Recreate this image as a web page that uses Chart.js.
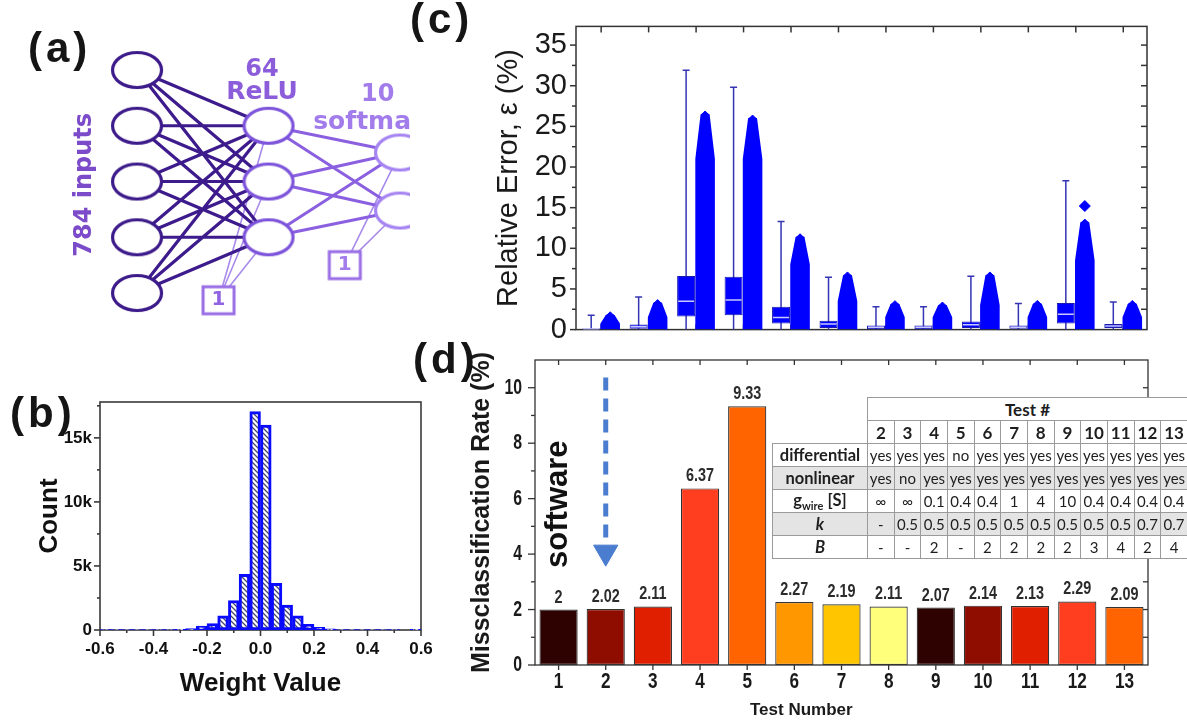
<!DOCTYPE html>
<html>
<head>
<meta charset="utf-8">
<title>Network, weights, relative error and misclassification</title>
<script src="https://cdn.jsdelivr.net/npm/chart.js@4.4.1/dist/chart.umd.min.js"></script>
<style>
  html, body { margin: 0; padding: 0; background: #fff; }
  #page { position: relative; width: 1187px; height: 725px; overflow: hidden; background: #fff; }
  canvas { position: absolute; }
  .tag { position: absolute; font: bold 42px 'Liberation Sans', Arial, sans-serif; color: #151515; line-height: 42px; letter-spacing: 4px; }
  #testTitle { position: absolute; left: 750px; top: 700px; font: bold 17px 'Liberation Sans', Arial, sans-serif; color: #1a1a1a; line-height: 20px; }
  #paramTable { position: absolute; left: 772px; top: 397px; width: 415px; border-collapse: collapse; table-layout: fixed; font-family: Lato, 'Open Sans', sans-serif; color: #1e1e1e; }
  #paramTable td, #paramTable th { border: 1px solid #9a9a9a; height: 22px; padding: 0; text-align: center; background: #fff; font-size: 15px; font-weight: normal; white-space: nowrap; overflow: hidden; }
  #paramTable .blank { border: none; background: transparent; }
  #paramTable .head { font-weight: bold; font-size: 17px; }
  #paramTable .lab { font-weight: bold; font-size: 16.5px; }
  #paramTable tr.shade td, #paramTable tr.shade th { background: #e4e4e4; }
</style>
</head>
<body>
<div id="page">
  <canvas id="netChart" width="410" height="340" style="left:0;top:0"></canvas>
  <canvas id="weightChart" width="470" height="355" style="left:0;top:370px"></canvas>
  <canvas id="errorChart" width="777" height="356" style="left:410px;top:0"></canvas>
  <canvas id="missChart" width="777" height="385" style="left:410px;top:340px"></canvas>
  <table id="paramTable"></table>
  <div id="testTitle">Test Number</div>
  <div class="tag" style="left:28px;top:27px">(a)</div>
  <div class="tag" style="left:10px;top:392px">(b)</div>
  <div class="tag" style="left:410px;top:-2px">(c)</div>
  <div class="tag" style="left:413px;top:338px">(d)</div>
</div>
<script>
// ---------- (a) network: node rows per layer ----------
const inputRows = [0, 1, 2, 3, 4];
const hiddenRows = [1, 2, 3];
const outputRows = [1.48, 2.52];
const biasUnits = [
  { layer: 0.62, row: 4.13, feeds: 1 },
  { layer: 1.58, row: 3.5, feeds: 2 }
];

// ---------- (b) weight histogram (counts in thousands) ----------
const weightBins = [-0.58, -0.54, -0.50, -0.46, -0.42, -0.38, -0.34, -0.30, -0.26, -0.22, -0.18, -0.14, -0.10, -0.06, -0.02,
                    0.02, 0.06, 0.10, 0.14, 0.18, 0.22, 0.26, 0.30, 0.34, 0.38, 0.42, 0.46, 0.50, 0.54, 0.58];
const weightCounts = [0.04, 0.04, 0.04, 0.04, 0.04, 0.04, 0.04, 0.05, 0.12, 0.3, 0.5, 1.1, 2.3, 4.35, 17.05,
                      16.0, 3.65, 1.95, 1.1, 0.45, 0.2, 0.1, 0.04, 0.04, 0.04, 0.04, 0.04, 0.04, 0, 0.05];
const weightTicks = [-0.6, -0.4, -0.2, 0, 0.2, 0.4, 0.6];
const countTicks = [0, 5, 10, 15];

// ---------- (c) relative error per test ----------
const errorTests = ['2', '3', '4', '5', '6', '7', '8', '9', '10', '11', '12', '13'];
const whiskerTop = [1.77, 4.0, 31.9, 29.8, 13.3, 6.45, 2.8, 2.8, 6.55, 3.2, 18.3, 3.4];
const boxQ3 = [0.15, 0.64, 6.6, 6.5, 2.8, 1.1, 0.5, 0.5, 1.0, 0.5, 3.26, 0.7];
const boxMedian = [0.06, 0.35, 3.5, 3.65, 1.5, 0.7, 0.3, 0.3, 0.6, 0.3, 1.9, 0.45];
const boxQ1 = [0, 0.1, 1.6, 1.75, 0.75, 0.2, 0.05, 0.05, 0.2, 0.1, 0.75, 0.2];
const swarmMax = [1.7, 3.2, 26.4, 25.9, 11.3, 6.6, 3.07, 2.9, 6.6, 3.1, 13.1, 3.1];
const swarmShoulder = [0.7, 1.5, 21, 21, 8, 3.5, 1.5, 1.5, 3, 1.5, 8.5, 1.5];
const swarmOutliers = [[], [], [], [], [], [], [], [], [], [], [15.2], []];
const errorTicks = [0, 5, 10, 15, 20, 25, 30, 35];

// ---------- (d) misclassification rate ----------
const testNumbers = ['1', '2', '3', '4', '5', '6', '7', '8', '9', '10', '11', '12', '13'];
const missRates = [2, 2.02, 2.11, 6.37, 9.33, 2.27, 2.19, 2.11, 2.07, 2.14, 2.13, 2.29, 2.09];
const missTicks = [0, 2, 4, 6, 8, 10];
const barColors = ['#2e0200', '#8e0c00', '#e01f00', '#ff3d1f', '#ff6400', '#ff9700', '#ffc600', '#ffff7c',
                   '#2e0200', '#8e0c00', '#e01f00', '#ff3d1f', '#ff6400'];
const softwareArrow = { test: '2', from: 10.37, to: 4.35, head: 4.07 };

// ---------- table ----------
const tableTests = ['2', '3', '4', '5', '6', '7', '8', '9', '10', '11', '12', '13'];
const differentialRow = ['yes', 'yes', 'yes', 'no', 'yes', 'yes', 'yes', 'yes', 'yes', 'yes', 'yes', 'yes'];
const nonlinearRow = ['yes', 'no', 'yes', 'yes', 'yes', 'yes', 'yes', 'yes', 'yes', 'yes', 'yes', 'yes'];
const gwireRow = ['∞', '∞', '0.1', '0.4', '0.4', '1', '4', '10', '0.4', '0.4', '0.4', '0.4'];
const kRow = ['-', '0.5', '0.5', '0.5', '0.5', '0.5', '0.5', '0.5', '0.5', '0.5', '0.7', '0.7'];
const bRow = ['-', '-', '2', '-', '2', '2', '2', '2', '3', '4', '2', '4'];

const ARIAL = "'Liberation Sans', Arial, sans-serif";
const DEJAVU = "'DejaVu Sans', sans-serif";

// frame, tick marks and (optionally) squeezed tick labels, all from the chart's scales
function framePlugin(spec) {
  return {
    id: 'frame',
    beforeDatasetsDraw(chart) {
      const { ctx, chartArea: a } = chart;
      ctx.save();
      ctx.strokeStyle = spec.color;
      ctx.lineWidth = spec.width;
      ctx.strokeRect(a.left, a.top, a.right - a.left, a.bottom - a.top);
      spec.ticks.forEach(t => {
        const s = chart.scales[t.scale];
        t.values.forEach(v => {
          const p = s.getPixelForValue(v);
          ctx.beginPath();
          if (t.side === 'left') { ctx.moveTo(a.left, p); ctx.lineTo(a.left - t.len, p); }
          if (t.side === 'right') { ctx.moveTo(a.right, p); ctx.lineTo(a.right + t.len, p); }
          if (t.side === 'bottom') { ctx.moveTo(p, a.bottom); ctx.lineTo(p, a.bottom + t.len); }
          if (t.side === 'top') { ctx.moveTo(p, a.top); ctx.lineTo(p, a.top - t.len); }
          ctx.stroke();
        });
      });
      (spec.labels || []).forEach(l => {
        const s = chart.scales[l.scale];
        ctx.font = l.font;
        ctx.fillStyle = l.color;
        ctx.textBaseline = 'middle';
        l.values.forEach((v, i) => {
          const p = s.getPixelForValue(v);
          ctx.save();
          if (l.side === 'left') { ctx.translate(a.left - l.offset, p); ctx.textAlign = 'right'; }
          else { ctx.translate(p, a.bottom + l.offset); ctx.textAlign = 'center'; }
          ctx.scale(l.squeeze, 1);
          ctx.fillText(l.text[i], 0, 0);
          ctx.restore();
        });
      });
      ctx.restore();
    }
  };
}

// free text placed in data units
function notesPlugin(items) {
  return {
    id: 'notes',
    afterDatasetsDraw(chart) {
      const ctx = chart.ctx;
      items.forEach(it => {
        const x = chart.scales.x.getPixelForValue(it.x);
        const y = chart.scales.y.getPixelForValue(it.y);
        ctx.save();
        ctx.translate(x, y);
        if (it.rotate) ctx.rotate(it.rotate * Math.PI / 180);
        ctx.font = it.font;
        ctx.fillStyle = it.color;
        ctx.textAlign = it.align || 'center';
        ctx.textBaseline = 'middle';
        ctx.fillText(it.text, 0, 0);
        ctx.restore();
      });
    }
  };
}

const noInteraction = { legend: { display: false }, tooltip: { enabled: false } };

// ================= (a) network =================
function ellipseMarker(color, w, h, lw) {
  const c = document.createElement('canvas');
  c.width = Math.ceil(w + lw * 2); c.height = Math.ceil(h + lw * 2);
  const g = c.getContext('2d');
  g.beginPath();
  g.ellipse(c.width / 2, c.height / 2, w / 2, h / 2, 0, 0, Math.PI * 2);
  g.fillStyle = '#fff'; g.fill();
  g.lineWidth = lw; g.strokeStyle = color; g.stroke();
  return c;
}
function boxMarker(color, w, h, lw) {
  const c = document.createElement('canvas');
  c.width = Math.ceil(w + lw * 2); c.height = Math.ceil(h + lw * 2);
  const g = c.getContext('2d');
  g.fillStyle = '#fff'; g.fillRect(lw, lw, w, h);
  g.lineWidth = lw; g.strokeStyle = color; g.strokeRect(lw, lw, w, h);
  return c;
}
function layerEdges(fromRows, fromLayer, toRows, toLayer) {
  const pts = [];
  fromRows.forEach(a => toRows.forEach(b => {
    pts.push({ x: fromLayer, y: a }, { x: toLayer, y: b }, { x: toLayer, y: null });
  }));
  return pts;
}
const layers = [inputRows, hiddenRows, outputRows];
const biasEdges = [];
biasUnits.forEach(b => layers[b.feeds].forEach(r => {
  biasEdges.push({ x: b.layer, y: b.row }, { x: b.feeds, y: r }, { x: b.feeds, y: null });
}));
const nodeColors = ['#3d1a8a', '#7c53da', '#a684f2'];

new Chart(document.getElementById('netChart'), {
  type: 'scatter',
  data: {
    datasets: [
      { type: 'line', data: layerEdges(inputRows, 0, hiddenRows, 1), borderColor: '#3d1b8c', borderWidth: 3.2, pointRadius: 0, spanGaps: false, order: 5 },
      { type: 'line', data: layerEdges(hiddenRows, 1, outputRows, 2), borderColor: '#8b60e0', borderWidth: 3, pointRadius: 0, spanGaps: false, order: 5 },
      { type: 'line', data: biasEdges, borderColor: '#a88bea', borderWidth: 1.6, pointRadius: 0, spanGaps: false, order: 6 },
      ...layers.map((rows, li) => ({
        data: rows.map(r => ({ x: li, y: r })),
        pointStyle: ellipseMarker(nodeColors[li], 49, 35, 3.2), pointRadius: 20, order: 0
      })),
      {
        data: biasUnits.map(b => ({ x: b.layer, y: b.row })),
        pointStyle: boxMarker('#9a6fe6', 31, 27, 3), pointRadius: 16, order: 0
      }
    ]
  },
  options: {
    responsive: false, animation: false, events: [],
    layout: { padding: 0, autoPadding: false },
    plugins: noInteraction,
    scales: {
      x: { type: 'linear', display: false, min: -1.042, max: 2.076 },
      y: { type: 'linear', display: false, reverse: true, min: -1.256, max: 4.843 }
    }
  },
  plugins: [notesPlugin([
    { text: '64', x: 0.95, y: 0.0, font: 'bold 24px ' + DEJAVU, color: '#8c5ddb' },
    { text: 'ReLU', x: 0.95, y: 0.41, font: 'bold 25px ' + DEJAVU, color: '#8c5ddb' },
    { text: '10', x: 1.83, y: 0.45, font: 'bold 24px ' + DEJAVU, color: '#a27ceb' },
    { text: 'softmax', x: 1.34, y: 0.95, font: 'bold 25px ' + DEJAVU, color: '#a27ceb', align: 'left' },
    { text: '784 inputs', x: -0.395, y: 2.06, font: 'bold 24px ' + DEJAVU, color: '#7b4bc9', rotate: -90 },
    { text: '1', x: biasUnits[0].layer, y: biasUnits[0].row, font: 'bold 20px ' + DEJAVU, color: '#9063e0' },
    { text: '1', x: biasUnits[1].layer, y: biasUnits[1].row, font: 'bold 20px ' + DEJAVU, color: '#a47ded' }
  ])]
});

// ================= (b) histogram =================
function hatchPattern() {
  const c = document.createElement('canvas');
  c.width = 5; c.height = 5;
  const g = c.getContext('2d');
  g.fillStyle = '#fff'; g.fillRect(0, 0, 5, 5);
  g.strokeStyle = '#4a4a70'; g.lineWidth = 1.3;
  g.beginPath();
  g.moveTo(-1, -1); g.lineTo(6, 6);
  g.moveTo(-1, 4); g.lineTo(1, 6);
  g.moveTo(4, -1); g.lineTo(6, 1);
  g.stroke();
  return g.createPattern(c, 'repeat');
}

new Chart(document.getElementById('weightChart'), {
  type: 'bar',
  data: {
    datasets: [{
      data: weightBins.map((b, i) => ({ x: b, y: weightCounts[i] })),
      backgroundColor: hatchPattern(), borderColor: '#0a0aff', borderWidth: 3, borderSkipped: false,
      barPercentage: 1, categoryPercentage: 1
    }]
  },
  options: {
    responsive: false, animation: false, events: [],
    plugins: noInteraction,
    layout: { padding: { top: 32, right: 49, left: 0, bottom: 0 }, autoPadding: false },
    scales: {
      x: {
        type: 'linear', offset: false, min: -0.6, max: 0.6,
        grid: { display: false, drawTicks: false }, border: { display: false },
        afterBuildTicks: s => { s.ticks = weightTicks.map(v => ({ value: v })); },
        ticks: { callback: v => v.toFixed(1), font: { family: ARIAL, size: 17, weight: 'bold' }, color: '#111', padding: 9, maxRotation: 0 },
        title: { display: true, text: 'Weight Value', font: { family: ARIAL, size: 26, weight: 'bold' }, color: '#111', padding: { top: 0, bottom: 26 } },
        afterFit: s => { s.height = 95; }
      },
      y: {
        min: 0, max: 17.8,
        grid: { display: false, drawTicks: false }, border: { display: false },
        afterBuildTicks: s => { s.ticks = countTicks.map(v => ({ value: v })); },
        ticks: { callback: v => v === 0 ? '0' : v + 'k', font: { family: ARIAL, size: 17, weight: 'bold' }, color: '#111', padding: 8 },
        title: { display: true, text: 'Count', font: { family: ARIAL, size: 26, weight: 'bold' }, color: '#111', padding: { top: 34, bottom: 0 } },
        afterFit: s => { s.width = 100; }
      }
    }
  },
  plugins: [framePlugin({
    color: '#3a3a3a', width: 1.6,
    ticks: [
      { scale: 'y', side: 'left', len: 6, values: countTicks },
      { scale: 'y', side: 'left', len: 3, values: [2.5, 7.5, 12.5, 17.5] },
      { scale: 'x', side: 'bottom', len: 6, values: weightTicks },
      { scale: 'x', side: 'bottom', len: 3, values: [-0.5, -0.3, -0.1, 0.1, 0.3, 0.5] }
    ]
  })]
});

// ================= (c) relative error =================
const boxOffset = -0.21, swarmOffset = 0.19, swarmHalf = 0.18, swarmTopHalf = 0.07;
const errorBlue = '#0000ff', whiskerBlue = '#3434b4';
const catPos = errorTests.map((t, i) => i + 1);

const swarmSets = swarmMax.map((m, i) => {
  const c = catPos[i] + swarmOffset, s = swarmShoulder[i];
  return {
    type: 'line', fill: 'origin', tension: 0, pointRadius: 0, order: 3,
    backgroundColor: errorBlue, borderColor: errorBlue, borderWidth: 2.5, borderJoinStyle: 'round',
    data: [
      { x: c - swarmHalf, y: 0 }, { x: c - swarmHalf, y: s }, { x: c - swarmTopHalf, y: m },
      { x: c + swarmTopHalf, y: m }, { x: c + swarmHalf, y: s }, { x: c + swarmHalf, y: 0 }
    ]
  };
});
const outlierPoints = [];
swarmOutliers.forEach((list, i) => list.forEach(v => outlierPoints.push({ x: catPos[i] + swarmOffset, y: v })));

new Chart(document.getElementById('errorChart'), {
  type: 'scatter',
  data: {
    datasets: [
      { data: boxMedian.map((v, i) => ({ x: catPos[i] + boxOffset, y: v })), pointStyle: 'line', pointRadius: 8, borderColor: '#c9c9ff', borderWidth: 1.5, order: 0 },
      { data: whiskerTop.map((v, i) => ({ x: catPos[i] + boxOffset, y: v })), pointStyle: 'line', pointRadius: 3.5, borderColor: whiskerBlue, borderWidth: 1.5, order: 0 },
      { data: swarmMax.map((v, i) => ({ x: catPos[i] + swarmOffset, y: v })), pointStyle: 'rectRot', pointRadius: 4, backgroundColor: errorBlue, borderColor: errorBlue, order: 0 },
      { data: outlierPoints, pointStyle: 'rectRot', pointRadius: 5.5, backgroundColor: errorBlue, borderColor: errorBlue, order: 0 },
      {
        type: 'bar', grouped: false, maxBarThickness: 18, order: 1,
        data: boxQ1.map((v, i) => ({ x: catPos[i] + boxOffset, y: [v, boxQ3[i]] })),
        backgroundColor: errorBlue, borderColor: '#1a1ab0', borderWidth: 1, borderSkipped: false
      },
      {
        type: 'bar', grouped: false, maxBarThickness: 1.5, order: 2,
        data: whiskerTop.map((v, i) => ({ x: catPos[i] + boxOffset, y: [0, v] })),
        backgroundColor: whiskerBlue
      },
      ...swarmSets
    ]
  },
  options: {
    responsive: false, animation: false, events: [],
    plugins: noInteraction,
    layout: { padding: { top: 18, right: 40, left: 0, bottom: 6 }, autoPadding: false },
    scales: {
      x: { type: 'linear', display: false, offset: false, min: 0.47, max: 12.5 },
      y: {
        min: 0, max: 37.3,
        grid: { display: false, drawTicks: false }, border: { display: false },
        afterBuildTicks: s => { s.ticks = errorTicks.map(v => ({ value: v })); },
        ticks: { font: { family: ARIAL, size: 29 }, color: '#1a1a1a', padding: 9 },
        title: { display: true, text: 'Relative Error, ε (%)', font: { family: ARIAL, size: 29 }, color: '#1a1a1a', padding: { top: 82, bottom: 0 } },
        afterFit: s => { s.width = 166; }
      }
    }
  },
  plugins: [framePlugin({
    color: '#333', width: 1.5,
    ticks: [
      { scale: 'y', side: 'left', len: 6, values: errorTicks },
      { scale: 'y', side: 'left', len: 4, values: [2.5, 7.5, 12.5, 17.5, 22.5, 27.5, 32.5] },
      { scale: 'y', side: 'right', len: -6, values: [2.5, 5, 7.5, 10, 12.5, 15, 17.5, 20, 22.5, 25, 27.5, 30, 32.5, 35] },
      { scale: 'x', side: 'top', len: -6, values: catPos },
      { scale: 'x', side: 'bottom', len: -5, values: catPos }
    ]
  })]
});

// ================= (d) misclassification =================
const barValuePlugin = {
  id: 'barValues',
  afterDatasetsDraw(chart) {
    const meta = chart.getDatasetMeta(0);
    const ctx = chart.ctx;
    ctx.save();
    ctx.font = 'bold 18px ' + ARIAL;
    ctx.fillStyle = '#2b2b2b';
    ctx.textAlign = 'center';
    ctx.textBaseline = 'bottom';
    meta.data.forEach((bar, i) => {
      ctx.save();
      ctx.translate(bar.x, bar.y - 3);
      ctx.scale(0.8, 1);
      ctx.fillText(String(missRates[i]), 0, 0);
      ctx.restore();
    });
    ctx.restore();
  }
};
const catIdx = testNumbers.map((t, i) => i);

new Chart(document.getElementById('missChart'), {
  type: 'bar',
  data: {
    labels: testNumbers,
    datasets: [
      {
        data: missRates, backgroundColor: barColors, borderColor: '#333', borderWidth: 1.2, borderSkipped: false,
        barPercentage: 0.81, categoryPercentage: 1, order: 1
      },
      {
        type: 'line', data: [{ x: softwareArrow.test, y: softwareArrow.from }, { x: softwareArrow.test, y: softwareArrow.to }],
        borderColor: '#4a7ccf', borderWidth: 5, borderDash: [13, 8], pointRadius: 0, order: 0
      },
      {
        type: 'scatter', data: [{ x: softwareArrow.test, y: softwareArrow.head }],
        pointStyle: 'triangle', rotation: 180, pointRadius: 14, backgroundColor: '#4a7ccf', borderColor: '#4a7ccf', borderWidth: 1, order: 0
      }
    ]
  },
  options: {
    responsive: false, animation: false, events: [],
    plugins: noInteraction,
    layout: { padding: { top: 20, right: 39, left: 0, bottom: 0 }, autoPadding: false },
    scales: {
      x: {
        type: 'category', offset: true,
        grid: { display: false, drawTicks: false }, border: { display: false },
        ticks: { display: false },
        afterFit: s => { s.height = 60; }
      },
      y: {
        min: 0, max: 11,
        grid: { display: false, drawTicks: false }, border: { display: false },
        afterBuildTicks: s => { s.ticks = missTicks.map(v => ({ value: v })); },
        ticks: { display: false },
        title: { display: true, text: 'Missclassification Rate (%)', font: { family: ARIAL, size: 25, weight: 'bold' }, color: '#1a1a1a', padding: { top: 57, bottom: 0 } },
        afterFit: s => { s.width = 125; }
      }
    }
  },
  plugins: [
    framePlugin({
      color: '#333', width: 1.3,
      ticks: [
        { scale: 'y', side: 'left', len: 7, values: missTicks },
        { scale: 'y', side: 'left', len: 4, values: [1, 3, 5, 7, 9] },
        { scale: 'y', side: 'right', len: -5, values: [1, 2, 3, 4, 5, 6, 7, 8, 9, 10] },
        { scale: 'x', side: 'bottom', len: 5, values: catIdx },
        { scale: 'x', side: 'top', len: -5, values: catIdx }
      ],
      labels: [
        { scale: 'y', side: 'left', offset: 13, values: missTicks, text: missTicks.map(String), font: 'bold 22px ' + ARIAL, color: '#1a1a1a', squeeze: 0.72 },
        { scale: 'x', side: 'bottom', offset: 17, values: catIdx, text: testNumbers, font: 'bold 22px ' + ARIAL, color: '#1a1a1a', squeeze: 0.78 }
      ]
    }),
    barValuePlugin,
    notesPlugin([{ text: 'software', x: 0, y: 5.8, font: 'bold 31px ' + ARIAL, color: '#111', rotate: -90 }])
  ]
});

// ================= parameter table =================
function cells(row) { return row.map(v => '<td>' + v + '</td>').join(''); }
let html = '<colgroup><col style="width:95px">' + tableTests.map(() => '<col style="width:26.67px">').join('') + '</colgroup>';
html += '<tr><td class="blank"></td><th class="head" colspan="12">Test #</th></tr>';
html += '<tr><td class="blank"></td>' + tableTests.map(t => '<th class="head">' + t + '</th>').join('') + '</tr>';
html += '<tr><th class="lab">differential</th>' + cells(differentialRow) + '</tr>';
html += '<tr class="shade"><th class="lab">nonlinear</th>' + cells(nonlinearRow) + '</tr>';
html += '<tr><th class="lab">g<sub style="font-size:11px">wire</sub> [S]</th>' + cells(gwireRow) + '</tr>';
html += '<tr class="shade"><th class="lab"><i>k</i></th>' + cells(kRow) + '</tr>';
html += '<tr><th class="lab"><i>B</i></th>' + cells(bRow) + '</tr>';
document.getElementById('paramTable').innerHTML = html;
</script>
</body>
</html>
